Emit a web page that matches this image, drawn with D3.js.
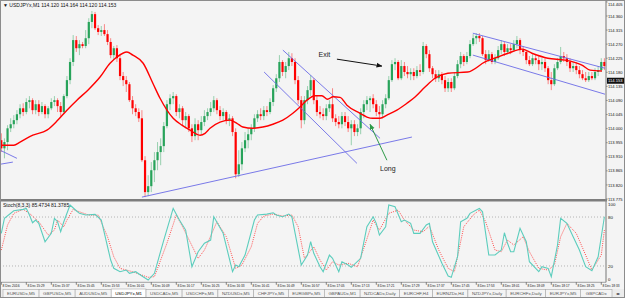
<!DOCTYPE html>
<html>
<head>
<meta charset="utf-8">
<script src="https://cdn.jsdelivr.net/npm/d3@7"></script>
<style>
  body { margin: 0; background: #fff; }
  svg { display: block; font-family: "Liberation Sans", Arial, sans-serif; }
</style>
</head>
<body>
<div id="chart"></div>
<script>
// USDJPYx M1, 8 Dec 2016, bar 0 = 15:21
var opens = [
  113.963,113.937,113.957,114.001,114.014,114.027,114.046,114.065,114.053,114.085,
  114.091,114.059,114.078,114.053,114.072,114.046,114.065,114.085,114.091,114.072,
  114.053,114.104,114.155,114.213,114.283,114.257,114.270,114.264,114.289,114.341,
  114.366,114.321,114.309,114.315,114.302,114.277,114.235,114.257,114.225,114.168,
  114.155,114.142,114.091,114.065,114.053,114.033,113.899,113.797,113.816,113.867,
  113.899,113.925,113.944,114.008,114.078,114.097,114.104,114.053,114.065,114.027,
  114.040,114.001,113.976,114.014,113.995,114.021,114.040,114.053,114.065,114.091,
  114.059,114.040,114.053,114.027,114.033,113.989,113.854,113.886,113.937,113.963,
  113.982,114.001,114.033,114.046,114.040,114.059,114.053,114.085,114.129,114.161,
  114.213,114.181,114.200,114.225,114.213,114.155,114.091,114.027,114.091,114.123,
  114.155,114.091,114.053,114.046,114.040,114.065,114.078,114.033,114.021,114.014,
  114.040,114.021,114.001,114.014,113.989,114.001,114.053,114.078,114.091,114.097,
  114.078,114.053,114.046,114.078,114.097,114.155,114.206,114.213,114.161,114.200,
  114.181,114.174,114.181,114.168,114.187,114.181,114.264,114.238,114.193,114.174,
  114.161,114.174,114.155,114.129,114.149,114.129,114.168,114.206,114.232,114.213,
  114.232,114.270,114.289,114.296,114.289,114.238,114.219,114.238,114.213,114.225,
  114.251,114.270,114.245,114.257,114.251,114.270,114.283,114.251,114.245,114.219,
  114.206,114.225,114.219,114.206,114.213,114.193,114.155,114.142,114.193,114.213,
  114.232,114.225,114.213,114.193,114.200,114.187,114.174,114.161,114.155,114.168,
  114.161,114.181,114.187,114.213
];
var highs = [
  113.985,113.969,114.011,114.033,114.043,114.059,114.078,114.081,114.097,114.104,
  114.097,114.091,114.091,114.085,114.078,114.072,114.097,114.104,114.097,114.085,
  114.110,114.168,114.225,114.299,114.296,114.283,114.277,114.315,114.353,114.376,
  114.373,114.331,114.328,114.334,114.315,114.289,114.264,114.267,114.235,114.181,
  114.168,114.149,114.104,114.078,114.065,114.059,113.912,113.851,113.893,113.925,
  113.957,113.969,114.021,114.091,114.110,114.117,114.110,114.078,114.072,114.053,
  114.046,114.014,114.033,114.027,114.040,114.059,114.065,114.085,114.104,114.097,
  114.072,114.065,114.059,114.046,114.040,114.001,113.931,113.957,113.989,114.001,
  114.014,114.046,114.059,114.065,114.072,114.072,114.097,114.139,114.174,114.235,
  114.219,114.213,114.245,114.241,114.225,114.168,114.104,114.104,114.136,114.171,
  114.161,114.104,114.072,114.065,114.078,114.091,114.129,114.046,114.040,114.053,
  114.053,114.040,114.027,114.027,114.014,114.065,114.091,114.104,114.104,114.110,
  114.091,114.072,114.091,114.110,114.168,114.219,114.225,114.219,114.219,114.213,
  114.200,114.193,114.193,114.200,114.206,114.277,114.270,114.251,114.200,114.187,
  114.187,114.181,114.168,114.161,114.161,114.181,114.219,114.245,114.238,114.245,
  114.283,114.302,114.305,114.305,114.296,114.251,114.251,114.245,114.238,114.264,
  114.283,114.277,114.270,114.270,114.283,114.296,114.289,114.264,114.251,114.232,
  114.238,114.238,114.232,114.225,114.225,114.200,114.181,114.206,114.225,114.261,
  114.245,114.238,114.225,114.213,114.213,114.200,114.187,114.181,114.181,114.181,
  114.193,114.200,114.225,114.225
];
var lows = [
  113.925,113.905,113.931,113.989,114.001,114.014,114.033,114.040,114.046,114.065,
  114.046,114.046,114.040,114.046,114.033,114.033,114.059,114.072,114.053,114.040,
  114.046,114.097,114.142,114.200,114.245,114.235,114.257,114.257,114.270,114.321,
  114.315,114.299,114.296,114.296,114.267,114.225,114.219,114.213,114.155,114.136,
  114.117,114.085,114.046,114.040,114.021,113.893,113.781,113.784,113.797,113.829,
  113.867,113.883,113.925,114.001,114.059,114.078,114.040,114.033,114.008,114.001,
  113.989,113.957,113.963,113.963,113.982,114.008,114.027,114.040,114.053,114.046,
  114.027,114.027,114.014,114.008,113.976,113.841,113.845,113.867,113.925,113.937,
  113.963,113.989,114.021,114.027,114.027,114.040,114.046,114.072,114.117,114.149,
  114.168,114.161,114.187,114.200,114.142,114.078,114.001,114.014,114.078,114.104,
  114.078,114.040,114.033,114.027,114.027,114.053,114.021,114.008,114.001,114.001,
  114.008,113.989,113.947,113.976,113.976,113.982,114.033,114.059,114.053,114.065,
  114.040,114.001,114.033,114.065,114.091,114.149,114.187,114.155,114.155,114.168,
  114.161,114.155,114.155,114.161,114.168,114.174,114.225,114.181,114.161,114.149,
  114.149,114.142,114.117,114.117,114.117,114.123,114.161,114.193,114.200,114.206,
  114.225,114.264,114.270,114.277,114.232,114.206,114.213,114.206,114.206,114.219,
  114.238,114.232,114.238,114.238,114.245,114.257,114.238,114.232,114.206,114.200,
  114.200,114.206,114.187,114.187,114.181,114.142,114.123,114.136,114.187,114.206,
  114.213,114.200,114.181,114.181,114.174,114.161,114.155,114.149,114.149,114.155,
  114.155,114.168,114.181,114.187
];
var closes = [
  113.937,113.957,114.001,114.014,114.027,114.046,114.065,114.053,114.085,114.091,
  114.059,114.078,114.053,114.072,114.046,114.065,114.085,114.091,114.072,114.053,
  114.104,114.155,114.213,114.283,114.257,114.270,114.264,114.289,114.341,114.366,
  114.321,114.309,114.315,114.302,114.277,114.235,114.257,114.225,114.168,114.155,
  114.142,114.091,114.065,114.053,114.033,113.899,113.797,113.816,113.867,113.899,
  113.925,113.944,114.008,114.078,114.097,114.104,114.053,114.065,114.027,114.040,
  114.001,113.976,114.014,113.995,114.021,114.040,114.053,114.065,114.091,114.059,
  114.040,114.053,114.027,114.033,113.989,113.854,113.886,113.937,113.963,113.982,
  114.001,114.033,114.046,114.040,114.059,114.053,114.085,114.129,114.161,114.213,
  114.181,114.200,114.225,114.213,114.155,114.091,114.027,114.091,114.123,114.155,
  114.091,114.053,114.046,114.040,114.065,114.078,114.033,114.021,114.014,114.040,
  114.021,114.001,114.014,113.989,114.001,114.053,114.078,114.091,114.097,114.078,
  114.053,114.046,114.078,114.097,114.155,114.206,114.213,114.161,114.200,114.181,
  114.174,114.181,114.168,114.187,114.181,114.264,114.238,114.193,114.174,114.161,
  114.174,114.155,114.129,114.149,114.129,114.168,114.206,114.232,114.213,114.232,
  114.270,114.289,114.296,114.289,114.238,114.219,114.238,114.213,114.225,114.251,
  114.270,114.245,114.257,114.251,114.270,114.283,114.251,114.245,114.219,114.206,
  114.225,114.219,114.206,114.213,114.193,114.155,114.142,114.193,114.213,114.232,
  114.225,114.213,114.193,114.200,114.187,114.174,114.161,114.155,114.168,114.161,
  114.181,114.187,114.213,114.200
];
var bidPrice = 114.153;

// moving average: [bar, price]
var maPoints = [
  [0,113.947],[4,113.947],[6,113.957],[10.1,113.979],[14.6,113.995],[17.8,114.024],[21,114.059],
  [24.2,114.091],[27.7,114.123],[31.6,114.165],[34.8,114.209],[37,114.229],[40.2,114.245],
  [42.1,114.235],[45.4,114.209],[48.5,114.145],[50.8,114.097],[55,114.033],[57.8,114.011],
  [60.4,113.995],[63.6,113.979],[65.2,113.985],[66.8,114.001],[70,114.021],[73.2,114.027],
  [75.4,114.017],[77.3,114.005],[80.5,114.001],[83.7,114.005],[86.9,114.014],[90.1,114.027],
  [93.3,114.049],[95.6,114.069],[97.8,114.091],[100.4,114.105],[102.6,114.105],[104.4,114.094],
  [106.2,114.102],[108.4,114.100],[110.6,114.075],[114.8,114.049],[117,114.037],[118.9,114.033],
  [121.2,114.033],[123.4,114.043],
  [126.6,114.059],[129.8,114.081],[132.4,114.101],[135.6,114.133],[138.8,114.161],[142.9,114.177],
  [149.3,114.181],[154.8,114.213],[158.9,114.229],[162.2,114.241],[166.6,114.254],[169.8,114.241],
  [174.9,114.225],[180.4,114.219],[185.8,114.203],[188.4,114.187],[192.2,114.184]
];

// Stoch(8,3,3): [bar, value]
var stochMain = [
  [0,60],[1,78.4],[4,87.7],[7,89.4],[8,90.6],[9,82.4],[10,73],[11,76.3],[12,72.2],[14,49.7],
  [16,60],[17,78.4],[18,74.2],[19,62],[20,74.2],[22,94.7],[24,87.7],[25,84.5],[27,82.4],[30,83.3],
  [32,76.3],[35,27.3],[36,17.1],[38,13],[40,15],[41,11],[43,13],[45,7.7],[47,2.8],[49,11],
  [52,51.8],[55,90.6],[57,76.3],[59,64],[61,19.1],[63,37.5],[65,47.8],[67,51.8],[68,80.3],[71,60],
  [74,13],[75,21.2],[76,19.1],[78,33.4],[81,76.3],[82,82.4],[85,83.6],[87,85.2],[88,82.4],[90,80.3],
  [92,83.6],[93,80.3],[96,21.2],[98,33.4],[99,49.7],[100,35.5],[102,19.1],[103,13],[105,33.4],[106,29.4],
  [108,13],[109,25.2],[111,21.2],[112,18.4],[115,29.4],[117,68.1],[119,80.3],[120,72.2],[121,57.9],[123,68.1],
  [124,94.7],[126,92.6],[128,74.2],[129,76.3],[131,72.2],[132,60],[134,60],[136,70.2],[137,72.2],[138,49.7],
  [141,23.3],[143,7.7],[144,6.1],[146,31.3],[147,74.2],[149,78.4],[150,84.5],[152,88.5],[153,90.6],[154,86.4],
  [155,60],[156,33.4],[158,33.4],[160,39.5],[161,60.7],[162,47.8],[163,37.5],[164,37.5],[166,66.1],[168,49.7],
  [169,25.2],[172,13],[173,19.1],[175,17.1],[176,6.9],[178,45.7],[179,78.4],[181,72.2],[183,55.8],[185,39.5],
  [187,19.1],[189,14.2],[191,31.3],[192,55.8],[193,80.3]
];
var stochSignal = [
  [0,39.5],[2,70.2],[4,84.5],[7,89.4],[9,84.5],[12,74.2],[15,57.9],[17,64],[18,76.3],[20,68.1],
  [21,76.3],[23,89.4],[25,86.4],[28,82.4],[31,82.4],[34,55.8],[36,31.3],[38,17.1],[42,13],[47,6.1],
  [49,6.9],[53,47.8],[56,82.4],[58,68.1],[63,29.4],[65,39.5],[66,48],[69,74.2],[72,55.8],[75,17.1],
  [77,21.2],[80,43.6],[82,72.2],[84,81.2],[87,83.6],[90,81.2],[93,82.4],[95,68.1],[97,29.4],[100,43.6],
  [102,27.3],[104,15],[106,25.2],[108,21.2],[111,23.3],[114,19.1],[116,41.6],[119,76.3],[121,64],[124,84.5],
  [127,88.5],[129,76.3],[132,64],[135,62],[137,68.9],[140,39.5],[143,17.1],[145,13],[148,68.1],[151,82.4],
  [153,88.5],[155,74.2],[158,39.5],[160,37.5],[162,51.8],[164,45.7],[167,55.8],[169,37.5],[172,17.1],[175,15],
  [177,21.2],[179,55.8],[181,72.2],[184,60],[187,33.4],[189,15],[192,33.4],[193,64]
];
var stochLevels = [80, 20];

// hand drawn trend / channel lines: [bar1, price1, bar2, price2]
var trendLines = [
  [-0.4,113.931,5.0,113.905],
  [-0.4,113.886,3.7,113.893],
  [45.0,113.781,131.4,113.973],
  [84.1,114.181,113.8,113.889],
  [90.1,114.251,121.2,113.969],
  [150.9,114.305,193.2,114.193],
  [150.9,114.235,193.2,114.110]
];

var priceTicks = [114.405,114.360,114.315,114.270,114.225,114.180,114.135,114.090,114.045,
                  114.000,113.955,113.910,113.865,113.820,113.775];
var timeLabels = ["8 Dec 2016","8 Dec 15:29","8 Dec 15:37","8 Dec 15:45","8 Dec 15:53","8 Dec 16:01",
  "8 Dec 16:09","8 Dec 16:17","8 Dec 16:25","8 Dec 16:33","8 Dec 16:41","8 Dec 16:49","8 Dec 16:57",
  "8 Dec 17:05","8 Dec 17:13","8 Dec 17:21","8 Dec 17:29","8 Dec 17:37","8 Dec 17:45","8 Dec 17:53",
  "8 Dec 18:01","8 Dec 18:09","8 Dec 18:17","8 Dec 18:25","8 Dec 18:33"];
var tabLabels = ["EURUSDx,M5","GBPUSDx,M5","AUDUSDx,M5","USDJPYx,M1","USDCADx,M5","USDCHFx,M5",
  "NZDUSDx,M5","CHFJPYx,M5","EURGBPx,M5","GBPAUDx,M1","NZDCADx,Daily","EURCHF,H4","EURNZDx,H4",
  "NZDJPYx,Daily","EURCHFx,Daily","EURJPYx,M5","GBPCADx"];
var activeTab = "USDJPYx,M1";
var titleText = "USDJPYx,M1  114.120 114.164 114.120 114.153";
var stochTitle = "Stoch(8,3,3) 85.4734 81.3785";

var W = 625, H = 298;
var plotR = 606, mainBottom = 199, stochTop = 201.5, stochBottom = 282.3;
var upCol = "#27a35a", downCol = "#ff0000";

var x = d3.scaleLinear().domain([0, 193]).range([1.3, 604.4]);
var y = d3.scaleLinear().domain([113.775, 114.360]).range([199, 16]);
var ys = d3.scaleLinear().domain([0, 100]).range([282.3, 200.7]);

var svg = d3.select("#chart").append("svg")
  .attr("width", W)
  .attr("height", H);

svg.append("rect").attr("width", W).attr("height", H).attr("fill", "#f4f4f4");

var defs = svg.append("defs");
defs.append("clipPath").attr("id", "clipMain")
  .append("rect").attr("x", 0).attr("y", 0).attr("width", plotR).attr("height", mainBottom);
defs.append("clipPath").attr("id", "clipStoch")
  .append("rect").attr("x", 0).attr("y", stochTop).attr("width", plotR).attr("height", stochBottom - stochTop);
function arrowHead(id, col) {
  defs.append("marker").attr("id", id)
    .attr("viewBox", "0 0 10 10").attr("refX", 9).attr("refY", 5)
    .attr("markerWidth", 6).attr("markerHeight", 6).attr("orient", "auto")
    .append("path").attr("d", "M0,1 L10,5 L0,9 Z").attr("fill", col);
}
arrowHead("arrBlack", "#111");
arrowHead("arrGreen", "#2e9a48");

// ---- main window ----
var main = svg.append("g").attr("clip-path", "url(#clipMain)");

var bars = closes.map(function(c, i) {
  return { i: i, o: opens[i], h: highs[i], l: lows[i], c: c };
});

main.selectAll("line.wick")
  .data(bars)
  .enter()
  .append("line")
  .attr("class", "wick")
  .attr("x1", function(d) { return x(d.i); })
  .attr("x2", function(d) { return x(d.i); })
  .attr("y1", function(d) { return y(d.h); })
  .attr("y2", function(d) { return y(d.l); })
  .attr("stroke", function(d) { return d.c >= d.o ? upCol : downCol; })
  .attr("stroke-opacity", 0.5)
  .attr("stroke-width", 0.9);

main.selectAll("rect.body")
  .data(bars)
  .enter()
  .append("rect")
  .attr("class", "body")
  .attr("x", function(d) { return x(d.i) - 1.1; })
  .attr("width", 2.2)
  .attr("y", function(d) { return y(Math.max(d.o, d.c)); })
  .attr("height", function(d) { return Math.max(1, Math.abs(y(d.o) - y(d.c))); })
  .attr("fill", function(d) { return d.c >= d.o ? upCol : downCol; });

main.selectAll("line.trend")
  .data(trendLines)
  .enter()
  .append("line")
  .attr("class", "trend")
  .attr("x1", function(d) { return x(d[0]); })
  .attr("y1", function(d) { return y(d[1]); })
  .attr("x2", function(d) { return x(d[2]); })
  .attr("y2", function(d) { return y(d[3]); })
  .attr("stroke", "#6b6be6")
  .attr("stroke-width", 0.9);

var maLine = d3.line()
  .x(function(d) { return x(d[0]); })
  .y(function(d) { return y(d[1]); })
  .curve(d3.curveMonotoneX);
main.append("path")
  .datum(maPoints)
  .attr("d", maLine)
  .attr("fill", "none")
  .attr("stroke", "#ff0000")
  .attr("stroke-width", 1.4);

// annotations
main.append("text").attr("x", x(101.5)).attr("y", y(114.229))
  .attr("font-size", 7).attr("fill", "#222").text("Exit");
main.append("line")
  .attr("x1", x(107.4)).attr("y1", y(114.222))
  .attr("x2", x(121.8)).attr("y2", y(114.200))
  .attr("stroke", "#111").attr("stroke-width", 1)
  .attr("marker-end", "url(#arrBlack)");
main.append("text").attr("x", x(121.2)).attr("y", y(113.864))
  .attr("font-size", 7).attr("fill", "#222").text("Long");
main.append("line")
  .attr("x1", x(123.4)).attr("y1", y(113.899))
  .attr("x2", x(118)).attr("y2", y(114.014))
  .attr("stroke", "#2e9a48").attr("stroke-width", 1)
  .attr("marker-end", "url(#arrGreen)");

svg.append("text").attr("x", 3).attr("y", 6.5)
  .attr("font-size", 5).attr("fill", "#111")
  .text("\u25BC " + titleText);

// ---- price axis ----
var pAxis = svg.append("g");
pAxis.selectAll("text")
  .data(priceTicks)
  .enter()
  .append("text")
  .attr("x", 608)
  .attr("y", function(d) { return Math.max(5.5, Math.min(200.5, y(d) + 1.6)); })
  .attr("font-size", 4.4)
  .attr("textLength", 14.5)
  .attr("lengthAdjust", "spacingAndGlyphs")
  .attr("fill", "#111")
  .text(function(d) { return d.toFixed(3); });
pAxis.selectAll("line")
  .data(priceTicks)
  .enter()
  .append("line")
  .attr("x1", plotR).attr("x2", plotR + 1.5)
  .attr("y1", function(d) { return y(d); })
  .attr("y2", function(d) { return y(d); })
  .attr("stroke", "#333").attr("stroke-width", 0.6);

svg.append("rect").attr("x", plotR + 1).attr("y", y(bidPrice) - 3)
  .attr("width", 17).attr("height", 6).attr("fill", "#111");
svg.append("text").attr("x", 608).attr("y", y(bidPrice) + 1.6)
  .attr("font-size", 4.4).attr("textLength", 14.5).attr("lengthAdjust", "spacingAndGlyphs")
  .attr("fill", "#fff").text(bidPrice.toFixed(3));

// ---- stochastic window ----
var st = svg.append("g").attr("clip-path", "url(#clipStoch)");
st.selectAll("line.level")
  .data(stochLevels)
  .enter()
  .append("line")
  .attr("x1", 0).attr("x2", plotR)
  .attr("y1", function(d) { return ys(d); })
  .attr("y2", function(d) { return ys(d); })
  .attr("stroke", "#9a9a9a").attr("stroke-width", 0.7)
  .attr("stroke-dasharray", "1,2");

var stLine = d3.line()
  .x(function(d) { return x(d[0]); })
  .y(function(d) { return ys(d[1]); });
st.append("path").datum(stochSignal).attr("d", stLine)
  .attr("fill", "none").attr("stroke", "#ff4c4c").attr("stroke-width", 1)
  .attr("stroke-dasharray", "1,1.2");
st.append("path").datum(stochMain).attr("d", stLine)
  .attr("fill", "none").attr("stroke", "#5ccdbd").attr("stroke-width", 1.1);

svg.append("text").attr("x", 3).attr("y", 207)
  .attr("font-size", 5).attr("fill", "#111").text(stochTitle);

var sTicks = [{ v: 100, t: "100" }, { v: 80, t: "80" }, { v: 20, t: "20" }, { v: 0, t: "0" }];
svg.selectAll("text.sTick")
  .data(sTicks)
  .enter()
  .append("text")
  .attr("class", "sTick")
  .attr("x", 608)
  .attr("y", function(d) { return Math.max(206, Math.min(280.5, ys(d.v) + 1.6)); })
  .attr("font-size", 4.4).attr("fill", "#111")
  .text(function(d) { return d.t; });

// frames
svg.append("rect").attr("x", 0).attr("y", mainBottom).attr("width", plotR + 1).attr("height", 2.5)
  .attr("fill", "#7d7d7d");
svg.append("line").attr("x1", plotR).attr("x2", plotR).attr("y1", 0).attr("y2", stochBottom)
  .attr("stroke", "#8a8a8a").attr("stroke-width", 1.2);
svg.append("line").attr("x1", 0).attr("x2", plotR).attr("y1", stochBottom).attr("y2", stochBottom)
  .attr("stroke", "#8a8a8a").attr("stroke-width", 0.8);

// ---- time axis ----
var tAxis = svg.append("g");
tAxis.selectAll("line")
  .data(timeLabels)
  .enter()
  .append("line")
  .attr("x1", function(d, i) { return x(i * 8); })
  .attr("x2", function(d, i) { return x(i * 8); })
  .attr("y1", stochBottom).attr("y2", stochBottom + 2.5)
  .attr("stroke", "#333").attr("stroke-width", 0.6);
tAxis.selectAll("text")
  .data(timeLabels)
  .enter()
  .append("text")
  .attr("x", function(d, i) { return x(i * 8) + 1.2; })
  .attr("y", 287.3)
  .attr("font-size", 4.2)
  .attr("textLength", 17)
  .attr("lengthAdjust", "spacingAndGlyphs")
  .attr("fill", "#111")
  .text(function(d) { return d; });

// ---- symbol tabs ----
var tabY = 289;
svg.append("rect").attr("x", 0).attr("y", tabY).attr("width", W).attr("height", H - tabY)
  .attr("fill", "#ececec");
var tabX = 3;
tabLabels.forEach(function(lbl, k) {
  var g = svg.append("g");
  var active = lbl === activeTab;
  var last = k === tabLabels.length - 1;
  var r = g.append("rect").attr("x", tabX).attr("y", tabY + (active ? 0 : 0.5))
    .attr("height", H - tabY).attr("fill", active ? "#ffffff" : "#f4f4f4")
    .attr("stroke", "#a8a8a8").attr("stroke-width", 0.6);
  var t = g.append("text").attr("y", tabY + 6.3)
    .attr("font-size", 4.4).attr("fill", active ? "#000" : "#555").text(lbl);
  var tw = t.node().getComputedTextLength();
  var w = last ? 612 - tabX : Math.max(33, tw + 8);
  r.attr("width", w);
  if (last && tw > w - 4) {
    t.attr("textLength", w - 4).attr("lengthAdjust", "spacingAndGlyphs");
    tw = w - 4;
  }
  t.attr("x", tabX + (w - tw) / 2);
  tabX += w;
});
svg.append("text").attr("x", 615.5).attr("y", tabY + 6.3).attr("font-size", 4.4).attr("fill", "#333")
  .text("\u25C2\u25B8");

svg.append("rect").attr("x", 0.5).attr("y", 0.5).attr("width", W - 1).attr("height", H - 1)
  .attr("fill", "none").attr("stroke", "#8c8c8c").attr("stroke-width", 1);
</script>
</body>
</html>
